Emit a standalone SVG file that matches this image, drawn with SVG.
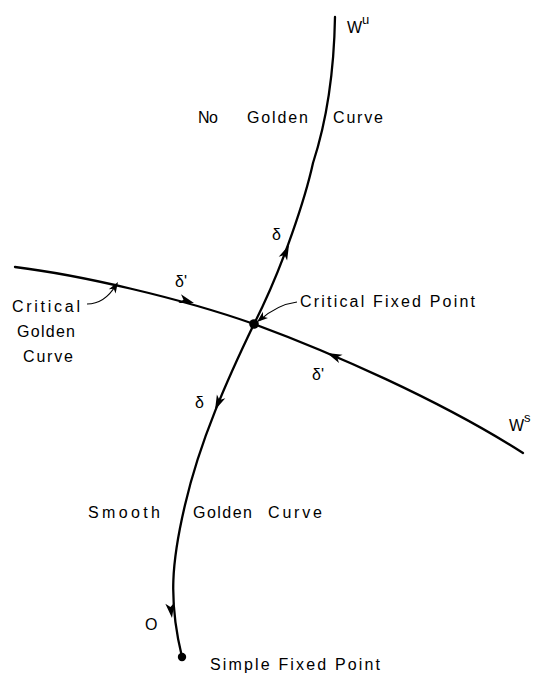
<svg xmlns="http://www.w3.org/2000/svg" width="535" height="676" viewBox="0 0 535 676">
<style>
.c{fill:none;stroke:#000;stroke-width:2.3;stroke-linecap:round}
.l{fill:none;stroke:#000;stroke-width:1.2}
text{font-family:"Liberation Sans","DejaVu Sans",sans-serif;font-size:16px;fill:#000}
.sup{font-size:13px}
</style>
<defs>
<path id="ah" d="M0,0 L-15,-4.6 L-11,0 L-15,4.6 Z" fill="#000"/>
<path id="sh" d="M0,0 L-11,-4 L-8,0 L-11,4 Z" fill="#000"/>
</defs>
<rect width="535" height="676" fill="#fff"/>
<g id="connectors">
<path id="wu" class="c" d="M335,17 C334,75 327,120 313,163 C306,195 284,265 254,324"/>
<path id="ws" class="c" d="M15,267 C80,275 180,298 254,324 C330,352 440,400 523,453"/>
<path id="smooth" class="c" d="M254,324 C228,378 200,440 185,505 C172,560 168,600 182,657"/>
<use href="#ah" transform="translate(289,245) rotate(-66)"/>
<use href="#ah" transform="translate(194,303) rotate(17)"/>
<use href="#ah" transform="translate(327,353) rotate(203)"/>
<use href="#ah" transform="translate(215,410) rotate(114)"/>
<use href="#ah" transform="translate(172,618) rotate(82)"/>
<path class="l" d="M87,304 C100,304 110,295 116,285"/>
<use href="#sh" transform="translate(118,282) rotate(-58)"/>
<path class="l" d="M297,302 C282,304 270,311 260,320"/>
<use href="#sh" transform="translate(257,322) rotate(140)"/>
</g>
<g id="critical-fixed-point">
<circle cx="254" cy="324" r="4.8" fill="#000"/>
<text x="300" y="307" textLength="175" lengthAdjust="spacing">Critical Fixed Point</text>
</g>
<g id="simple-fixed-point">
<circle cx="182" cy="657" r="4.2" fill="#000"/>
<text x="210" y="670" textLength="170" lengthAdjust="spacing">Simple Fixed Point</text>
<text x="145" y="630">O</text>
</g>
<g id="labels">
<text x="347" y="33" font-size="17">W<tspan class="sup" dy="-9">u</tspan></text>
<text x="509" y="431" font-size="17">W<tspan class="sup" dy="-9">s</tspan></text>
<text x="198" y="123" textLength="20" lengthAdjust="spacing">No</text>
<text x="247" y="123" textLength="61" lengthAdjust="spacing">Golden</text>
<text x="333" y="123" textLength="50" lengthAdjust="spacing">Curve</text>
<text x="272" y="240">δ</text>
<text x="175" y="287">δ'</text>
<text x="312" y="380">δ'</text>
<text x="195" y="408">δ</text>
<text x="88" y="518" textLength="72" lengthAdjust="spacing">Smooth</text>
<text x="193" y="518" textLength="59" lengthAdjust="spacing">Golden</text>
<text x="268" y="518" textLength="54" lengthAdjust="spacing">Curve</text>
</g>
<g id="critical-golden-curve">
<text x="12" y="312" textLength="68" lengthAdjust="spacing">Critical</text>
<text x="17" y="337" textLength="58" lengthAdjust="spacing">Golden</text>
<text x="23" y="362" textLength="50" lengthAdjust="spacing">Curve</text>
</g>
</svg>
